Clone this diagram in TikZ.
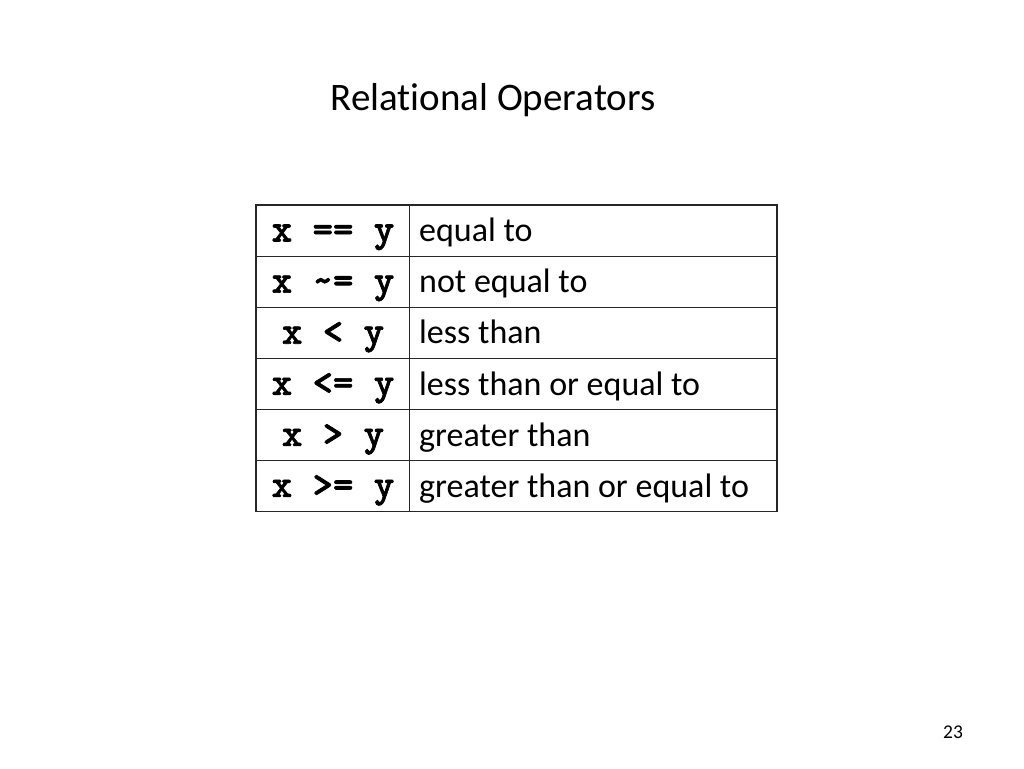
\documentclass[tikz,border=0pt]{standalone}
\usepackage{fontspec}
\setmainfont{Carlito}[Ligatures=NoCommon]
\newfontfamily\codefont{lmmonolt10-bold.otf}[FakeBold=1.6]
\usepackage{tikz}

\begin{document}
\begin{tikzpicture}[x=1pt,y=1pt]
	\tikzstyle{every node}+=[inner sep=0pt]
	\tikzstyle{grid}=[black!85, line width=1.2pt]
	\tikzstyle{code}=[anchor=base, font=\codefont\bfseries\fontsize{38.9}{38.9}\selectfont]
	\tikzstyle{desc}=[anchor=base west, font=\fontsize{34}{34}\selectfont]
	\useasboundingbox [fill=white] (0,0) rectangle (1024,-768);
	\node [anchor=base, font=\fontsize{39}{39}\selectfont] (title) at (493,-110) {Relational Operators};
	\draw [grid] (256,-205) rectangle (777,-511.5);
	\draw [grid] (409.5,-205) -- (409.5,-511.5);
	\draw [grid] (256,-256.1) -- (777,-256.1);
	\draw [grid] (256,-307.2) -- (777,-307.2);
	\draw [grid] (256,-358.2) -- (777,-358.2);
	\draw [grid] (256,-409.3) -- (777,-409.3);
	\draw [grid] (256,-460.4) -- (777,-460.4);
	\node [code] (eq) at (333,-241.5) {x == y};
	\node [desc] (eqtext) at (419,-241.7) {equal to};
	\node [code] (ne) at (333,-292.6) {x \textasciitilde= y};
	\node [desc] (netext) at (419,-292.8) {not equal to};
	\node [code] (lt) at (333,-343.7) {x < y};
	\node [desc] (lttext) at (419,-343.9) {less than};
	\node [code] (le) at (333,-394.8) {x <= y};
	\node [desc] (letext) at (419,-395.0) {less than or equal to};
	\node [code] (gt) at (333,-445.9) {x > y};
	\node [desc] (gttext) at (419,-446.1) {greater than};
	\node [code] (ge) at (333,-496.9) {x >= y};
	\node [desc] (getext) at (419,-497.1) {greater than or equal to};
	\node [anchor=base, font=\fontsize{19.5}{19.5}\selectfont] (page) at (953,-738) {23};
\end{tikzpicture}
\end{document}
